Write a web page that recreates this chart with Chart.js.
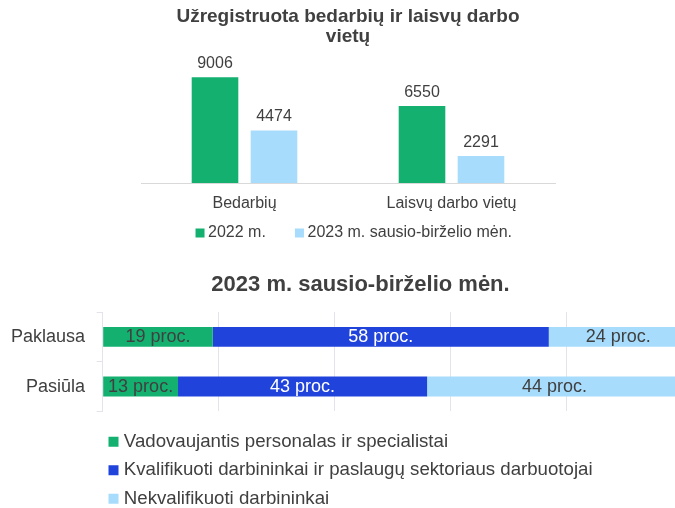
<!DOCTYPE html>
<html lang="lt">
<head>
<meta charset="utf-8">
<title>Bedarbiai ir laisvos darbo vietos</title>
<script src="https://cdn.jsdelivr.net/npm/chart.js@4.4.0/dist/chart.umd.min.js"></script>
<style>
    html, body { margin: 0; padding: 0; background: #ffffff; overflow: hidden; }
    #page { position: relative; width: 675px; height: 508px; overflow: hidden; }
    #top-chart { position: absolute; left: 0; top: 0; }
    #bottom-chart { position: absolute; left: 0; top: 262px; }
</style>
</head>
<body>
<div id="page">
    <canvas id="top-chart" width="675" height="262"></canvas>
    <canvas id="bottom-chart" width="720" height="256"></canvas>
</div>
<script>
// Top chart data - registered unemployed and vacancies
const topTitle = ['Užregistruota bedarbių ir laisvų darbo', 'vietų'];
const topCategories = ['Bedarbių', 'Laisvų darbo vietų'];
const topSeriesNames = ['2022 m.', '2023 m. sausio-birželio mėn.'];
const values2022 = [9006, 6550];
const values2023 = [4474, 2291];

// Bottom chart data - demand and supply by occupation group (percent)
const bottomTitle = '2023 m. sausio-birželio mėn.';
const bottomCategories = ['Paklausa', 'Pasiūla'];
const groupNames = [
    'Vadovaujantis personalas ir specialistai',
    'Kvalifikuoti darbininkai ir paslaugų sektoriaus darbuotojai',
    'Nekvalifikuoti darbininkai'
];
const managersShare = [19, 13];
const skilledShare = [58, 43];
const unskilledShare = [24, 44];

(function() {
    'use strict';

    // Colours
    const GREEN = '#13B070';
    const BLUE = '#2043DB';
    const LIGHT_BLUE = '#A7DCFC';
    const TEXT = '#404040';
    const GRID = '#E3E3EC';

    Chart.defaults.font.family = '"Liberation Sans", Arial, sans-serif';
    Chart.defaults.color = TEXT;

    // Draws a text label for every bar, above it or centred inside it
    function makeValueLabels(settings) {
        return {
            id: 'valueLabels',
            afterDatasetsDraw(chart) {
                const ctx = chart.ctx;
                ctx.save();
                ctx.font = settings.font;
                ctx.textAlign = 'center';
                ctx.textBaseline = 'middle';
                chart.data.datasets.forEach((ds, i) => {
                    const meta = chart.getDatasetMeta(i);
                    if (meta.hidden) return;
                    ctx.fillStyle = settings.colors[i];
                    meta.data.forEach((bar, j) => {
                        const p = bar.getProps(['x', 'y', 'base'], true);
                        const text = settings.format(ds.data[j]);
                        if (settings.inside) {
                            ctx.fillText(text, (p.x + p.base) / 2, p.y);
                        } else {
                            ctx.fillText(text, p.x, p.y - settings.offset);
                        }
                    });
                });
                ctx.restore();
            }
        };
    }

    // Shared legend look: small square, close to its text
    function legendLabels(boxSize, boxSlot, padding, fontSize) {
        return {
            usePointStyle: true,
            pointStyle: 'rect',
            boxWidth: boxSlot,
            boxHeight: boxSize,
            padding: padding,
            color: TEXT,
            font: { size: fontSize }
        };
    }

    // Top chart - grouped columns
    new Chart(document.getElementById('top-chart'), {
        type: 'bar',
        data: {
            labels: topCategories,
            datasets: [
                {
                    label: topSeriesNames[0],
                    data: values2022,
                    backgroundColor: GREEN,
                    categoryPercentage: 0.57,
                    barPercentage: 0.79
                },
                {
                    label: topSeriesNames[1],
                    data: values2023,
                    backgroundColor: LIGHT_BLUE,
                    categoryPercentage: 0.57,
                    barPercentage: 0.79
                }
            ]
        },
        options: {
            responsive: false,
            animation: false,
            events: [],
            layout: { padding: { left: 141, right: 104, top: 0, bottom: 11 } },
            plugins: {
                title: {
                    display: true,
                    text: topTitle,
                    fullSize: false,
                    color: TEXT,
                    font: { size: 19, weight: 'bold', lineHeight: '20px' },
                    padding: { top: 7, bottom: 18.6 }
                },
                legend: {
                    position: 'bottom',
                    align: 'center',
                    labels: legendLabels(9, 0.1, 33.5, 16)
                },
                tooltip: { enabled: false }
            },
            scales: {
                x: {
                    grid: { display: false, drawTicks: false },
                    border: { display: true, color: '#D9D9D9' },
                    // mirrored labels are not clipped to the (thin) axis box
                    ticks: { color: TEXT, font: { size: 16 }, mirror: true, padding: -29.9 },
                    afterFit(scale) { scale.height = 8.5; }
                },
                y: {
                    position: 'right',
                    min: 0,
                    max: 10000,
                    ticks: { display: false },
                    grid: { display: false },
                    border: { display: false },
                    afterFit(scale) { scale.width = 16; }
                }
            }
        },
        plugins: [makeValueLabels({
            font: '16px "Liberation Sans", Arial, sans-serif',
            colors: [TEXT, TEXT],
            offset: 13.7,
            inside: false,
            format: v => String(v)
        })]
    });

    // Bottom chart - stacked horizontal bars
    new Chart(document.getElementById('bottom-chart'), {
        type: 'bar',
        data: {
            labels: bottomCategories,
            datasets: [
                { label: groupNames[0], data: managersShare, backgroundColor: GREEN },
                { label: groupNames[1], data: skilledShare, backgroundColor: BLUE },
                { label: groupNames[2], data: unskilledShare, backgroundColor: LIGHT_BLUE }
            ]
        },
        options: {
            indexAxis: 'y',
            responsive: false,
            animation: false,
            events: [],
            datasets: {
                bar: { categoryPercentage: 1, barPercentage: 0.4 }
            },
            layout: { padding: { left: 10, right: 9, top: 0, bottom: 0 } },
            plugins: {
                title: {
                    display: true,
                    text: bottomTitle,
                    color: TEXT,
                    font: { size: 22, weight: 'bold', lineHeight: '26.4px' },
                    padding: { top: 9.8, bottom: 13.8 }
                },
                legend: {
                    position: 'bottom',
                    align: 'start',
                    fullSize: false,
                    labels: legendLabels(10, 2, 9.8, 18.67)
                },
                tooltip: { enabled: false }
            },
            scales: {
                x: {
                    stacked: true,
                    min: 0,
                    max: 105,
                    ticks: { display: false, stepSize: 20 },
                    grid: { color: GRID, drawTicks: true, tickLength: 11.2, tickColor: 'transparent' },
                    border: { display: false }
                },
                y: {
                    stacked: true,
                    grid: { drawOnChartArea: false, color: GRID, tickLength: 6 },
                    border: { display: true, color: GRID },
                    ticks: { color: TEXT, font: { size: 18 }, padding: 11.7 },
                    afterFit(scale) { scale.width = 92.7; }
                }
            }
        },
        plugins: [makeValueLabels({
            font: '18px "Liberation Sans", Arial, sans-serif',
            colors: [TEXT, '#FFFFFF', TEXT],
            inside: true,
            format: v => v + ' proc.'
        })]
    });
})();
</script>
</body>
</html>
